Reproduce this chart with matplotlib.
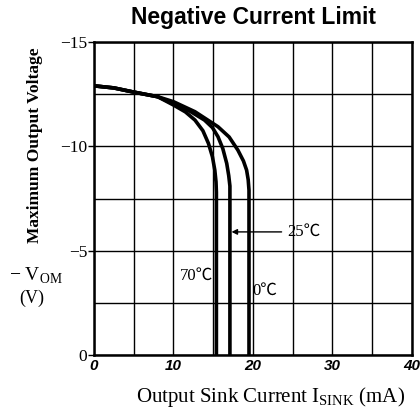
import matplotlib.pyplot as plt
from matplotlib.ticker import MultipleLocator

# Output sink current (mA) vs maximum output voltage magnitude (V)
I_70C = [0, 2.5, 5, 8, 10, 11.5, 12.7, 13.7, 14.4, 14.9, 15.2, 15.35, 15.4, 15.4]
V_70C = [12.9, 12.8, 12.6, 12.38, 11.98, 11.65, 11.26, 10.75, 10.14, 9.5, 8.86, 8.3, 7.8, 0]
I_25C = [0, 2.5, 5, 8, 10, 12, 13.9, 14.9, 15.6, 16.2, 16.7, 16.95, 17.1, 17.1]
V_25C = [12.9, 12.8, 12.6, 12.38, 12.05, 11.7, 11.26, 10.9, 10.46, 9.9, 9.18, 8.6, 8.1, 0]
I_0C = [0, 2.5, 5, 8, 10, 12.7, 15.6, 17.0, 18.1, 18.8, 19.2, 19.4, 19.5, 19.5]
V_0C = [12.9, 12.8, 12.6, 12.38, 12.14, 11.66, 10.94, 10.45, 9.82, 9.3, 8.86, 8.4, 7.9, 0]

X_TICKS = [0, 10, 20, 30, 40]
Y_TICKS = [0, 5, 10, 15]
Y_LABELS = ["0", "\u22125", "\u221210", "\u221215"]

SERIF = ["Liberation Serif", "Noto Sans CJK JP", "DejaVu Sans"]
SANS = "Liberation Sans"

fig = plt.figure(figsize=(4.2, 4.16), dpi=100)
ax = fig.add_axes([0.2238, 0.1466, 0.757, 0.7524])

for xs, ys in [(I_70C, V_70C), (I_25C, V_25C), (I_0C, V_0C)]:
    ax.plot(xs, ys, color="black", linewidth=2.6, solid_capstyle="butt")

ax.set_xlim(0, 40)
ax.set_ylim(0, 15)
ax.xaxis.set_minor_locator(MultipleLocator(5))
ax.yaxis.set_minor_locator(MultipleLocator(2.5))
ax.set_xticks(X_TICKS)
ax.set_xticklabels([str(t) for t in X_TICKS], fontfamily=SANS,
                   fontweight="bold", fontstyle="italic", fontsize=11)
ax.set_yticks(Y_TICKS)
ax.set_yticklabels(Y_LABELS, fontfamily=SERIF, fontsize=12.5)
ax.grid(True, which="both", color="black", linewidth=1.0)
ax.tick_params(axis="x", which="both", length=0, pad=3)
ax.tick_params(axis="y", which="major", length=4, width=1, pad=1)
ax.tick_params(axis="y", which="minor", length=0)
for s in ax.spines.values():
    s.set_linewidth(1.8)

ax.text(15.0, 3.8, "70\u2103", family=SERIF, fontsize=12, ha="right", va="center")
ax.text(19.9, 3.1, "0\u2103", family=SERIF, fontsize=12, ha="left", va="center")
ax.annotate("25\u2103", xy=(17.3, 5.9), xytext=(24.3, 5.9),
            family=SERIF, fontsize=12, va="center", ha="left",
            arrowprops=dict(arrowstyle="-|>", color="black", lw=1.0,
                            mutation_scale=8, shrinkB=0))

fig.text(0.603, 0.958, "Negative Current Limit", fontfamily=SANS,
         fontweight="bold", fontsize=16.5, ha="center", va="center")
fig.text(0.083, 0.65, "Maximum Output Voltage", family=SERIF, fontweight="bold",
         fontsize=12.5, rotation=90, ha="center", va="center")
fig.text(0.022, 0.338, "\u2212 V$_{\\mathregular{OM}}$", family=SERIF,
         fontsize=14, ha="left", va="center")
fig.text(0.045, 0.283, "(V)", family=SERIF, fontsize=13, ha="left", va="center")
fig.text(0.643, 0.045, "Output Sink Current I$_{\\mathregular{SINK}}$ (mA)",
         family=SERIF, fontsize=15, ha="center", va="center")

fig.savefig("out.png", dpi=100)
